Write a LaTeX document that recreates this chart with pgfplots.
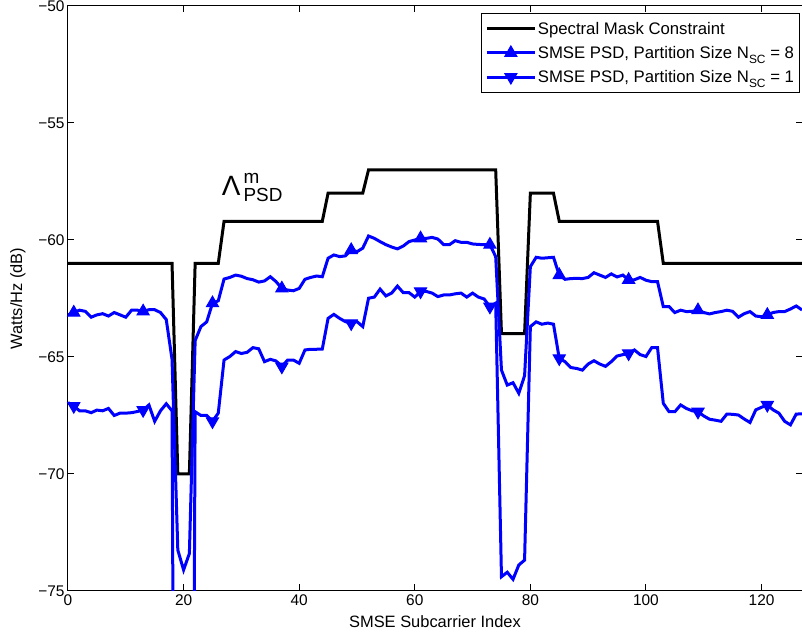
\documentclass[border=0pt]{standalone}
\usepackage{pgfplots}
\pgfplotsset{compat=1.18}
\usepackage{fontspec}
\setmainfont{Liberation Sans}
\newcommand{\sub}[1]{\raisebox{-0.55ex}{\fontsize{12}{12}\selectfont #1}}
\pgfdeclareplotmark{dtriangle*}{%
  \pgfpathmoveto{\pgfqpoint{0pt}{-\pgfplotmarksize}}%
  \pgfpathlineto{\pgfqpoint{0.866\pgfplotmarksize}{0.5\pgfplotmarksize}}%
  \pgfpathlineto{\pgfqpoint{-0.866\pgfplotmarksize}{0.5\pgfplotmarksize}}%
  \pgfpathclose
  \pgfusepathqfillstroke}
\begin{document}
\begin{tikzpicture}
\begin{axis}[
  name=ax,
  scale only axis,
  width=734bp, height=585bp,
  xmin=0, xmax=127, ymin=-75, ymax=-50,
  xtick={0,20,40,60,80,100,120},
  ytick={-75,-70,-65,-60,-55,-50},
  yticklabels={−75,−70,−65,−60,−55,−50},
  /pgf/number format/assume math mode=true,
  tick align=inside,
  major tick length=6.5bp,
  axis line style={line width=1bp},
  every tick/.style={black, line width=1bp},
  tick label style={font=\fontsize{15.5}{18}\selectfont},
  label style={font=\fontsize{16.5}{19}\selectfont},
  xlabel={SMSE Subcarrier Index},
  ylabel={Watts/Hz (dB)},
  xlabel style={yshift=-3bp},
  ylabel style={yshift=6bp},
  legend cell align=left,
  legend style={at={(1,1)}, anchor=north east, xshift=-2bp, yshift=-7bp,
    draw=black, line width=1bp, font=\fontsize{16.8}{19}\selectfont,
    inner xsep=4bp, inner ysep=7bp, row sep=7.5bp,
    nodes={inner sep=1.5bp}},
  legend image code/.code={\draw[#1, mark repeat=2, mark phase=2] plot coordinates {(0bp,0bp) (24bp,0bp) (48bp,0bp)};},
]
\addplot[black, line width=3bp] coordinates {
(0,-61) (18,-61) (19,-70) (21,-70) (22,-61) (26,-61) (27,-59.2) (44,-59.2) (45,-58) (51,-58) (52,-57) (74,-57) (75,-64) (79,-64) (80,-58) (84,-58) (85,-59.2) (102,-59.2) (103,-61) (127,-61)};
\addlegendentry{Spectral Mask Constraint}
\addlegendimage{blue, line width=3bp, mark=triangle*, mark size=7bp, mark options={solid, fill=blue, line width=1bp}}
\addlegendentry{SMSE PSD, Partition Size N\sub{SC} = 8}
\addlegendimage{blue, line width=3bp, mark=dtriangle*, mark size=7bp, mark options={solid, fill=blue, line width=1bp}}
\addlegendentry{SMSE PSD, Partition Size N\sub{SC} = 1}
% N_SC = 1 curve
\addplot[blue, line width=3bp, forget plot] coordinates {
(0,-66.95) (1,-67.1) (2,-67.3) (3,-67.3) (4,-67.38) (5,-67.27) (6,-67.3) (7,-67.2) (8,-67.5) (9,-67.4)
(10,-67.4) (11,-67.38) (12,-67.33) (13,-67.27) (14,-67.05) (15,-67.75) (16,-67.3) (17,-67.0) (18,-67.3) (19,-120)
(20,-120) (21,-120) (22,-67.34) (23,-67.5) (24,-67.5) (25,-67.75) (26,-67.4) (27,-65.13) (28,-64.98) (29,-64.77)
(30,-64.85) (31,-64.8) (32,-64.6) (33,-64.65) (34,-65.2) (35,-65.1) (36,-65.17) (37,-65.41) (38,-65.13) (39,-65.13)
(40,-65.27) (41,-64.7) (42,-64.67) (43,-64.67) (44,-64.66) (45,-63.35) (46,-63.18) (47,-63.35) (48,-63.49) (49,-63.56)
(50,-63.49) (51,-63.7) (52,-62.49) (53,-62.44) (54,-62.1) (55,-62.39) (56,-62.27) (57,-61.97) (58,-62.25) (59,-62.25)
(60,-62.44) (61,-62.2) (62,-62.2) (63,-62.27) (64,-62.42) (65,-62.35) (66,-62.35) (67,-62.3) (68,-62.27) (69,-62.44)
(70,-62.27) (71,-62.44) (72,-62.52) (73,-62.85) (74,-62.7) (75,-74.39) (76,-74.2) (77,-74.5) (78,-73.89) (79,-73.68)
(80,-63.7) (81,-63.5) (82,-63.6) (83,-63.55) (84,-63.6) (85,-65.06) (86,-65.2) (87,-65.45) (88,-65.49) (89,-65.56)
(90,-65.3) (91,-65.16) (92,-65.3) (93,-65.4) (94,-65.2) (95,-64.96) (96,-64.9) (97,-64.85) (98,-64.7) (99,-64.9)
(100,-64.98) (101,-64.6) (102,-64.6) (103,-66.98) (104,-67.34) (105,-67.34) (106,-67.05) (107,-67.2) (108,-67.3) (109,-67.34)
(110,-67.52) (111,-67.66) (112,-67.7) (113,-67.75) (114,-67.44) (115,-67.45) (116,-67.48) (117,-67.65) (118,-67.8) (119,-67.26)
(120,-67.15) (121,-67.05) (122,-67.26) (123,-67.4) (124,-67.75) (125,-67.9) (126,-67.44) (127,-67.43)};
% N_SC = 8 curve
\addplot[blue, line width=3bp, forget plot] coordinates {
(0,-63.2) (1,-63.1) (2,-63.0) (3,-63.05) (4,-63.3) (5,-63.2) (6,-63.15) (7,-63.25) (8,-63.1) (9,-63.2)
(10,-63.3) (11,-63.0) (12,-63.0) (13,-63.05) (14,-62.98) (15,-62.98) (16,-63.1) (17,-63.4) (18,-65.1) (19,-73.25)
(20,-74.1) (21,-73.4) (22,-64.3) (23,-63.7) (24,-63.5) (25,-62.7) (26,-62.6) (27,-61.67) (28,-61.6) (29,-61.5)
(30,-61.55) (31,-61.65) (32,-61.7) (33,-61.8) (34,-61.75) (35,-61.57) (36,-61.78) (37,-62.07) (38,-62.14) (39,-62.17)
(40,-62.07) (41,-61.68) (42,-61.6) (43,-61.54) (44,-61.57) (45,-60.78) (46,-60.64) (47,-60.71) (48,-60.68) (49,-60.43)
(50,-60.5) (51,-60.35) (52,-59.83) (53,-59.93) (54,-60.07) (55,-60.2) (56,-60.3) (57,-60.38) (58,-60.26) (59,-60.07)
(60,-60.0) (61,-59.93) (62,-59.93) (63,-59.89) (64,-59.96) (65,-60.2) (66,-60.2) (67,-60.03) (68,-60.1) (69,-60.1)
(70,-60.17) (71,-60.19) (72,-60.2) (73,-60.2) (74,-60.71) (75,-65.56) (76,-66.2) (77,-66.1) (78,-66.55) (79,-65.8)
(80,-61.14) (81,-60.74) (82,-60.78) (83,-60.76) (84,-60.74) (85,-61.5) (86,-61.68) (87,-61.65) (88,-61.64) (89,-61.65)
(90,-61.6) (91,-61.4) (92,-61.5) (93,-61.6) (94,-61.45) (95,-61.58) (96,-61.5) (97,-61.7) (98,-61.7) (99,-61.6)
(100,-61.72) (101,-61.78) (102,-61.78) (103,-62.85) (104,-62.85) (105,-63.1) (106,-63.0) (107,-63.06) (108,-63.05) (109,-63.0)
(110,-63.1) (111,-63.16) (112,-63.1) (113,-63.06) (114,-63.0) (115,-63.05) (116,-63.3) (117,-63.15) (118,-63.06) (119,-63.25)
(120,-63.28) (121,-63.2) (122,-63.1) (123,-63.06) (124,-63.06) (125,-62.95) (126,-62.82) (127,-62.99)};
\addplot[only marks, blue, mark=triangle*, mark size=7bp, mark options={solid, fill=blue, line width=1bp}, forget plot] coordinates {
(1,-63.1) (13,-63.05) (25,-62.7) (37,-62.07) (49,-60.43) (61,-59.93) (73,-60.2) (85,-61.5) (97,-61.7) (109,-63.0) (121,-63.2)};
\addplot[only marks, blue, mark=dtriangle*, mark size=7bp, mark options={solid, fill=blue, line width=1bp}, forget plot] coordinates {
(1,-67.1) (13,-67.27) (25,-67.75) (37,-65.41) (49,-63.56) (61,-62.2) (73,-62.85) (85,-65.06) (97,-64.85) (109,-67.34) (121,-67.05)};
\node[anchor=base west, inner sep=0pt, font=\fontsize{28}{28}\selectfont] at (axis cs:26.6,-58.12) {Λ\kern3bp\rlap{\raisebox{0.45em}{\fontsize{19}{19}\selectfont m}}\raisebox{-0.2em}{\fontsize{19}{19}\selectfont PSD}};
\end{axis}
\pgfresetboundingbox
\useasboundingbox ([xshift=-68bp,yshift=-45bp]ax.south west) rectangle ([yshift=6bp]ax.north east);
\end{tikzpicture}
\end{document}
